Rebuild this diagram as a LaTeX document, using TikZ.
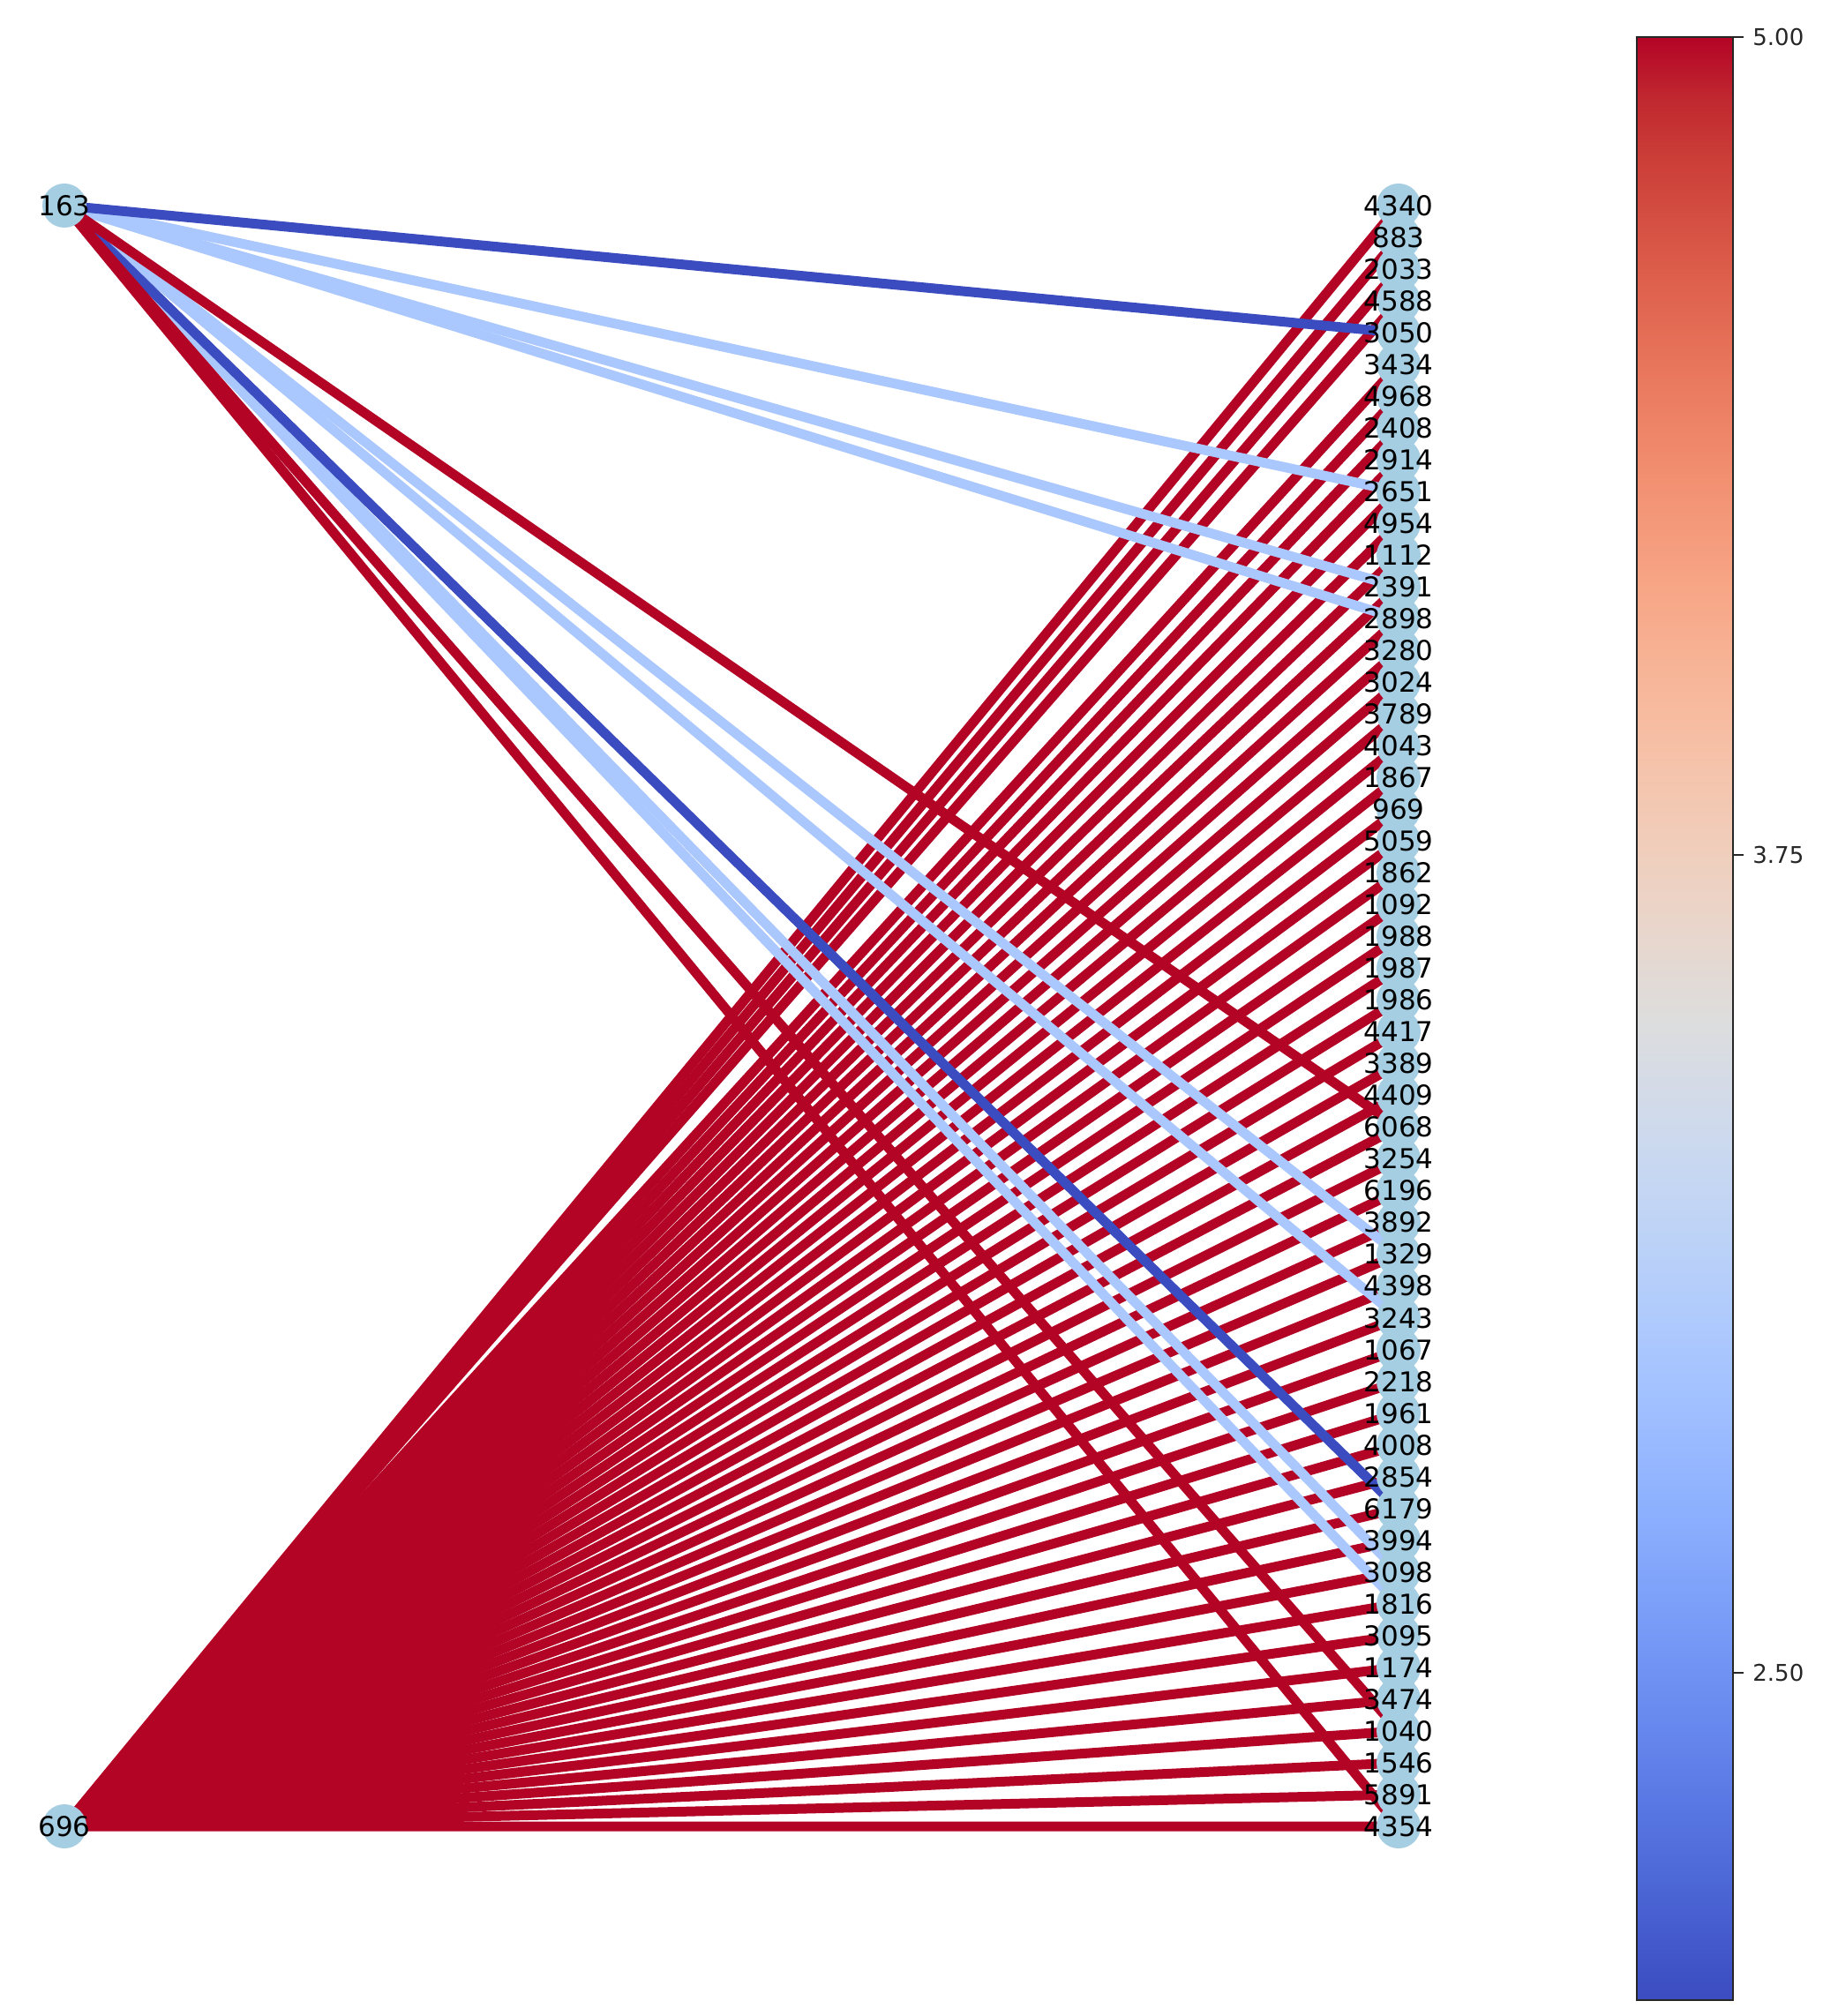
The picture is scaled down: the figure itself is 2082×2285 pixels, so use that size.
\documentclass[tikz,border=0pt]{standalone}
\usepackage{fontspec}
\setmainfont{DejaVu Sans}
\pgfdeclarelayer{edges}
\pgfsetlayers{edges,main}
\definecolor{cred}{RGB}{180,4,38}
\definecolor{clight}{RGB}{170,199,254}
\definecolor{cdark}{RGB}{59,76,192}
\definecolor{nodefill}{RGB}{166,206,227}
\definecolor{cw0}{RGB}{59,76,192}
\definecolor{cw1}{RGB}{68,90,204}
\definecolor{cw2}{RGB}{77,104,215}
\definecolor{cw3}{RGB}{87,117,225}
\definecolor{cw4}{RGB}{98,130,234}
\definecolor{cw5}{RGB}{108,142,241}
\definecolor{cw6}{RGB}{119,154,247}
\definecolor{cw7}{RGB}{130,165,251}
\definecolor{cw8}{RGB}{141,176,254}
\definecolor{cw9}{RGB}{152,185,255}
\definecolor{cw10}{RGB}{163,194,255}
\definecolor{cw11}{RGB}{174,201,253}
\definecolor{cw12}{RGB}{184,208,249}
\definecolor{cw13}{RGB}{194,213,244}
\definecolor{cw14}{RGB}{204,217,238}
\definecolor{cw15}{RGB}{213,219,230}
\definecolor{cw16}{RGB}{221,221,221}
\definecolor{cw17}{RGB}{229,216,209}
\definecolor{cw18}{RGB}{236,211,197}
\definecolor{cw19}{RGB}{241,204,184}
\definecolor{cw20}{RGB}{245,196,172}
\definecolor{cw21}{RGB}{247,187,159}
\definecolor{cw22}{RGB}{247,177,147}
\definecolor{cw23}{RGB}{247,166,134}
\definecolor{cw24}{RGB}{244,154,123}
\definecolor{cw25}{RGB}{241,141,111}
\definecolor{cw26}{RGB}{236,127,99}
\definecolor{cw27}{RGB}{229,112,88}
\definecolor{cw28}{RGB}{222,96,77}
\definecolor{cw29}{RGB}{213,80,66}
\definecolor{cw30}{RGB}{203,62,56}
\definecolor{cw31}{RGB}{192,40,47}
\definecolor{cw32}{RGB}{180,4,38}
\pgfdeclareverticalshading{coolwarm}{100bp}{color(0bp)=(cw0); color(25bp)=(cw0);
 color(26.5625bp)=(cw1); color(28.125bp)=(cw2); color(29.6875bp)=(cw3); color(31.25bp)=(cw4);
 color(32.8125bp)=(cw5); color(34.375bp)=(cw6); color(35.9375bp)=(cw7); color(37.5bp)=(cw8);
 color(39.0625bp)=(cw9); color(40.625bp)=(cw10); color(42.1875bp)=(cw11); color(43.75bp)=(cw12);
 color(45.3125bp)=(cw13); color(46.875bp)=(cw14); color(48.4375bp)=(cw15); color(50bp)=(cw16);
 color(51.5625bp)=(cw17); color(53.125bp)=(cw18); color(54.6875bp)=(cw19); color(56.25bp)=(cw20);
 color(57.8125bp)=(cw21); color(59.375bp)=(cw22); color(60.9375bp)=(cw23); color(62.5bp)=(cw24);
 color(64.0625bp)=(cw25); color(65.625bp)=(cw26); color(67.1875bp)=(cw27); color(68.75bp)=(cw28);
 color(70.3125bp)=(cw29); color(71.875bp)=(cw30); color(73.4375bp)=(cw31); color(75bp)=(cw32);
 color(100bp)=(cw32)}
\begin{document}
\begin{tikzpicture}[x=0.5pt,y=-0.5pt,
  gnode/.style={circle,fill=nodefill,draw=none,minimum size=25pt,inner sep=0pt},
  glabel/.style={font=\fontsize{15.5pt}{18pt}\selectfont,inner sep=0pt,text=black},
  edgeline/.style={line width=5.5pt},
  rate5/.style={edgeline,draw=cred},
  rate3/.style={edgeline,draw=clight},
  rate2/.style={edgeline,draw=cdark},
  ticklab/.style={font=\fontsize{13pt}{15pt}\selectfont,anchor=west,inner sep=0pt,text=black!85}]
\useasboundingbox (0,0) rectangle (2082,2285);
\begin{pgfonlayer}{edges}
\fill[white] (0,0) rectangle (2082,2285);
\end{pgfonlayer}
% left nodes
\node[gnode] (l163) at (73,233) {};
\node[gnode] (l696) at (73,2070) {};
% right nodes
\foreach \lab [count=\i from 0] in {4340,883,2033,4588,3050,3434,4968,2408,2914,2651,4954,1112,2391,2898,3280,3024,3789,4043,1867,969,5059,1862,1092,1988,1987,1986,4417,3389,4409,6068,3254,6196,3892,1329,4398,3243,1067,2218,1961,4008,2854,6179,3994,3098,1816,3095,1174,3474,1040,1546,5891,4354}
  {\node[gnode] (r\lab) at (1585,{233+36.02*\i}) {};}
% edges
\begin{pgfonlayer}{edges}
\foreach \lab in {4340,883,2033,4588,3434,4968,2408,2914,2651,4954,1112,2391,2898,3280,3024,3789,4043,1867,969,5059,1862,1092,1988,1987,1986,4417,3389,4409,6068,3254,6196,3892,1329,4398,3243,1067,2218,1961,4008,2854,6179,3994,3098,1816,3095,1174,3474,1040,1546,5891,4354}
  {\draw[rate5] (l696.center) -- (r\lab.center);}
\foreach \lab in {2651,2391,2898,1329,3243,3098,1816}
  {\draw[rate3] (l163.center) -- (r\lab.center);}
\foreach \lab in {3050,6179}
  {\draw[rate2] (l163.center) -- (r\lab.center);}
\foreach \lab in {6068,1040,4354}
  {\draw[rate5] (l163.center) -- (r\lab.center);}
\end{pgfonlayer}
% labels
\node[glabel] (t163) at (l163) {163};
\node[glabel] (t696) at (l696) {696};
\foreach \lab in {4340,883,2033,4588,3050,3434,4968,2408,2914,2651,4954,1112,2391,2898,3280,3024,3789,4043,1867,969,5059,1862,1092,1988,1987,1986,4417,3389,4409,6068,3254,6196,3892,1329,4398,3243,1067,2218,1961,4008,2854,6179,3994,3098,1816,3095,1174,3474,1040,1546,5891,4354}
  {\node[glabel] (t\lab) at (r\lab) {\lab};}
% colorbar
\shade[shading=coolwarm] (1855,42) rectangle (1964,2267);
\draw[line width=1pt,black!85] (1855,42) rectangle (1964,2267);
\draw[line width=0.8pt,black!85] (1964,42) -- (1976,42);
\draw[line width=0.8pt,black!85] (1964,969) -- (1976,969);
\draw[line width=0.8pt,black!85] (1964,1896) -- (1976,1896);
\node[ticklab] (tick500) at (1986,42) {5.00};
\node[ticklab] (tick375) at (1986,969) {3.75};
\node[ticklab] (tick250) at (1986,1896) {2.50};
\end{tikzpicture}
\end{document}
